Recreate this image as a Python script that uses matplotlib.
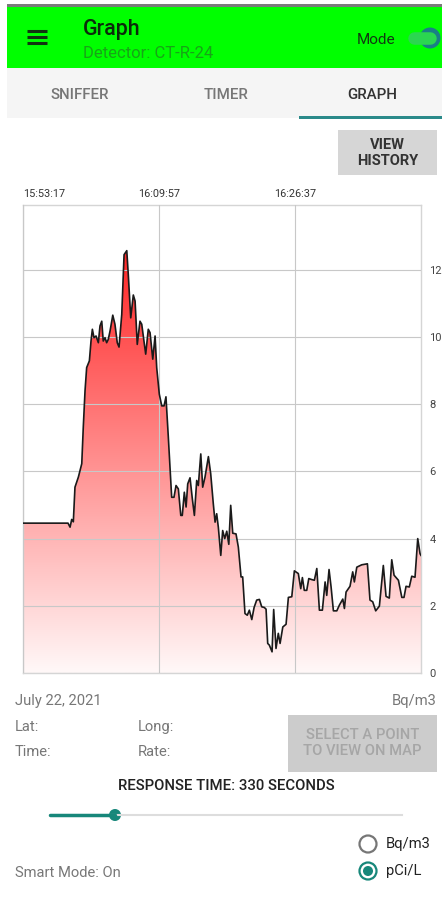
import matplotlib.pyplot as plt
import numpy as np
from matplotlib.patches import Rectangle, Circle, Polygon

plt.rcParams['font.family'] = ['Roboto', 'DejaVu Sans']

# seconds after 15:53:17 and reading (pCi/L)
secs = [0, 331, 346, 358, 370, 382, 407, 432, 443, 456, 468, 488, 500, 510, 522, 537,
        554, 566, 579, 590, 603, 615, 627, 640, 660, 676, 693, 706, 726, 743, 763, 774,
        792, 811, 824, 840, 860, 873, 902, 921, 934, 954, 971, 983, 1002, 1020, 1037,
        1051, 1068, 1093, 1110, 1125, 1142, 1160, 1171, 1186, 1199, 1211, 1228, 1245,
        1260, 1277, 1289, 1307, 1321, 1338, 1363, 1380, 1399, 1412, 1424, 1436, 1454,
        1468, 1483, 1498, 1513, 1527, 1542, 1566, 1583, 1603, 1615, 1632, 1649, 1664,
        1682, 1699, 1718, 1738, 1755, 1774, 1787, 1799, 1811, 1831, 1843, 1860, 1877,
        1890, 1910, 1934, 1951, 1976, 1995, 2024, 2042, 2054, 2068, 2086, 2101, 2123,
        2142, 2160, 2179, 2201, 2221, 2233, 2250, 2265, 2282, 2307, 2326, 2351, 2363,
        2375, 2404, 2424, 2436, 2454, 2490, 2532, 2551, 2571, 2593, 2620, 2649, 2669,
        2693, 2711, 2728, 2760, 2785, 2801, 2816, 2840, 2858, 2882, 2902, 2919, 2926]
vals = [4.46, 4.46, 4.34, 4.57, 4.5, 5.53, 5.83, 6.23, 7.3, 8.4, 9.09, 9.29, 9.88, 10.23,
        9.98, 10.03, 9.83, 10.33, 10.47, 9.88, 9.98, 9.83, 9.93, 10.18, 10.65, 10.38,
        9.83, 9.70, 10.67, 12.45, 12.57, 11.86, 10.57, 11.25, 11.07, 9.78, 10.47, 10.38,
        9.49, 10.23, 10.13, 9.34, 10.03, 9.09, 8.30, 7.95, 7.95, 8.22, 7.05, 5.23, 5.23,
        5.58, 5.48, 4.69, 4.69, 5.38, 4.94, 5.63, 5.81, 5.18, 4.69, 5.73, 5.58, 6.52,
        5.53, 5.83, 6.44, 5.93, 5.04, 4.49, 4.74, 4.34, 3.50, 4.24, 4.0, 4.22, 3.83,
        4.99, 4.16, 4.14, 3.75, 2.86, 2.86, 1.77, 1.72, 1.87, 1.59, 1.95, 2.17, 2.19,
        1.97, 1.95, 1.9, 0.88, 0.83, 0.63, 1.89, 0.73, 1.18, 0.88, 1.37, 1.45, 2.25,
        2.27, 3.04, 2.96, 2.51, 2.84, 2.46, 2.46, 2.81, 2.78, 2.76, 3.11, 1.87, 1.87,
        2.71, 2.31, 3.08, 2.56, 1.85, 1.85, 2.02, 2.2, 1.92, 2.41, 2.58, 3.01, 2.71,
        3.15, 3.22, 3.25, 2.17, 2.12, 1.85, 1.99, 3.2, 2.28, 2.23, 3.37, 2.91, 2.76,
        2.25, 2.25, 2.58, 2.56, 2.88, 2.85, 4.0, 3.55, 3.5]
x_ticks = [0, 1000, 2000]
x_labels = ['15:53:17', '16:09:57', '16:26:37']
y_ticks = [0, 2, 4, 6, 8, 10, 12]

teal = '#17877a'
gray_txt = '#777777'
W, H = 442, 898

fig = plt.figure(figsize=(W / 100, H / 100), dpi=100)
fig.patch.set_facecolor('white')

# ---- screen furniture, drawn in pixel coordinates ----
bg = fig.add_axes([0, 0, 1, 1])
bg.set_xlim(0, W)
bg.set_ylim(H, 0)
bg.axis('off')

bg.add_patch(Rectangle((7, 4), W - 7, 3, color='#7a7a7a', lw=0))
bg.add_patch(Rectangle((7, 7), W - 7, 61, color='#00ff00', lw=0))
for yy in (31, 37, 43):
    bg.plot([27, 47], [yy, yy], color='#113311', lw=2.2, solid_capstyle='butt')
bg.text(83, 29, 'Graph', fontsize=15.5, fontweight='medium', color='#0b2a0b', va='center')
bg.text(83, 53, 'Detector: CT-R-24', fontsize=12, color='#17a417', va='center')
bg.text(357, 40, 'Mode', fontsize=11, color='#123812', va='center')
bg.plot([414, 430], [38, 38], color='#2bd650', lw=9, solid_capstyle='round')
bg.add_patch(Circle((430, 38), 10.5, color='#1a7f86', lw=0))

bg.add_patch(Rectangle((7, 68), W - 7, 50, color='#f5f5f5', lw=0))
bg.text(80, 95, 'SNIFFER', fontsize=10.8, fontweight='medium', color=gray_txt, ha='center', va='center')
bg.text(226, 95, 'TIMER', fontsize=10.8, fontweight='medium', color=gray_txt, ha='center', va='center')
bg.text(372, 95, 'GRAPH', fontsize=10.8, fontweight='medium', color='#333333', ha='center', va='center')
bg.add_patch(Rectangle((299, 116), W - 299, 2.5, color='#2b8a8a', lw=0))

bg.add_patch(Rectangle((338, 130), 99, 45, color='#d6d6d6', lw=0))
bg.text(387.5, 153, 'VIEW\nHISTORY', fontsize=10.5, fontweight='bold', color='#333333',
        ha='center', va='center', linespacing=1.1)

bg.text(15, 701, 'July 22, 2021', fontsize=10.6, color=gray_txt, va='center')
bg.text(437, 701, 'Bq/m3', fontsize=10.6, color=gray_txt, ha='right', va='center')
bg.text(15, 727, 'Lat:', fontsize=10.6, color=gray_txt, va='center')
bg.text(138, 727, 'Long:', fontsize=10.6, color=gray_txt, va='center')
bg.text(15, 752, 'Time:', fontsize=10.6, color=gray_txt, va='center')
bg.text(138, 752, 'Rate:', fontsize=10.6, color=gray_txt, va='center')
bg.add_patch(Rectangle((288, 715), 149, 57, color='#cccccc', lw=0))
bg.text(362.5, 743, 'SELECT A POINT\nTO VIEW ON MAP', fontsize=10.6, fontweight='medium',
        color='#a6a6a6', ha='center', va='center', linespacing=1.1)
bg.text(226, 786, 'RESPONSE TIME: 330 SECONDS', fontsize=10.7, fontweight='medium',
        color='#222222', ha='center', va='center')

bg.plot([50, 402], [815, 815], color='#dddddd', lw=1.5)
bg.plot([50, 115], [815, 815], color=teal, lw=2.5, solid_capstyle='round')
bg.add_patch(Circle((115, 815), 6, color=teal, lw=0))

bg.add_patch(Circle((368, 844), 8.5, fill=False, ec='#767676', lw=1.6))
bg.text(386, 844, 'Bq/m3', fontsize=10.6, color='#222222', va='center')
bg.add_patch(Circle((368, 871), 8.5, fill=False, ec=teal, lw=1.6))
bg.add_patch(Circle((368, 871), 5, color=teal, lw=0))
bg.text(386, 871, 'pCi/L', fontsize=10.6, color='#222222', va='center')
bg.text(15, 873, 'Smart Mode: On', fontsize=10.6, color=gray_txt, va='center')

# ---- the chart ----
x0, x1, ytop, ybot = 23, 421, 205, 673
ax = fig.add_axes([x0 / W, (H - ybot) / H, (x1 - x0) / W, (ybot - ytop) / H])
xmax = secs[-1]
ymax = (ybot - ytop) / 33.6
ax.set_xlim(0, xmax)
ax.set_ylim(0, ymax)

f = np.linspace(0, 1, 256)[:, None]
grad = np.zeros((256, 1, 3))
grad[..., 0] = 1.0
grad[..., 1] = (248 - 232 * f) / 255
grad[..., 2] = (248 - 232 * f) / 255
img = ax.imshow(grad, extent=[0, xmax, 0, ymax], origin='lower', aspect='auto', zorder=1)
verts = np.column_stack([[secs[0]] + secs + [secs[-1]], [0] + vals + [0]])
clip = Polygon(verts, closed=True, transform=ax.transData, fc='none', ec='none')
ax.add_patch(clip)
img.set_clip_path(clip)

ax.plot(secs, vals, color='#1a1a1a', lw=1.2, zorder=3)

ax.xaxis.tick_top()
ax.yaxis.tick_right()
ax.set_xticks(x_ticks)
ax.set_xticklabels(x_labels)
ax.set_yticks(y_ticks)
ax.set_yticklabels([str(v) for v in y_ticks])
ax.tick_params(axis='x', length=0, pad=4, labelsize=7.8, labelcolor='#333333')
ax.tick_params(axis='y', length=0, pad=6, labelsize=8, labelcolor='#444444')
ax.get_xticklabels()[0].set_ha('left')
ax.grid(True, color='#c8c8c8', lw=0.8)
ax.set_axisbelow(False)
for s in ax.spines.values():
    s.set_color('#d5d5d5')
    s.set_linewidth(1)

fig.savefig('out.png', dpi=100)
